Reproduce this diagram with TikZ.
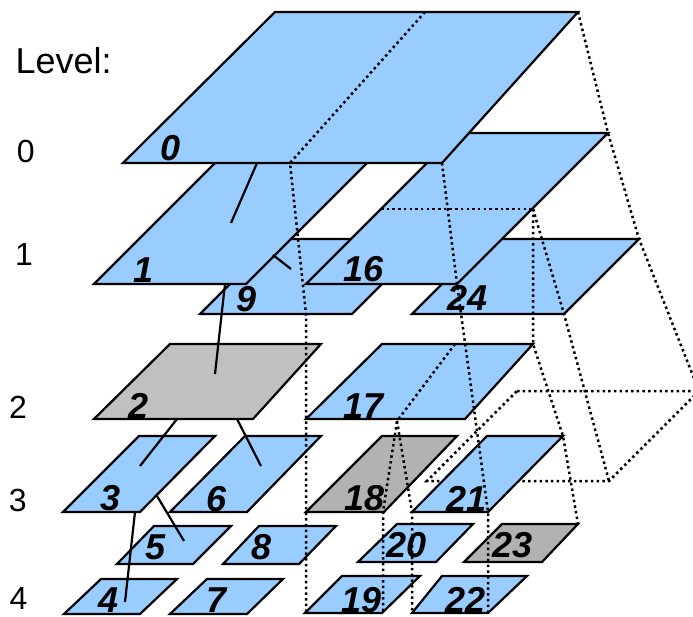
\documentclass[tikz,border=0pt]{standalone}
\usepackage{fontspec}
\setmainfont{Liberation Sans}
\definecolor{tileblue}{HTML}{99CCFF}
\definecolor{tilegray}{HTML}{C0C0C0}
\definecolor{tilegrayd}{HTML}{B2B2B2}
\tikzset{
  tile/.style={fill=tileblue, draw=black, line width=2.2pt, line join=miter},
  gtile/.style={tile, fill=tilegray},
  dtile/.style={tile, fill=tilegrayd},
  proj/.style={draw=black, line width=2.5pt, dash pattern=on 2.5pt off 3.2pt},
  link/.style={draw=black, line width=2.2pt},
  lbl/.style={font=\fontsize{36}{42}\selectfont\bfseries\itshape, anchor=base, inner sep=0pt},
  lvl/.style={font=\fontsize{32}{38}\selectfont, anchor=base west, inner sep=0pt},
}
\begin{document}
\begin{tikzpicture}[x=1pt,y=-1pt]
\useasboundingbox (0,0) rectangle (693,617);
\clip (0,0) rectangle (693,617);

% level labels
\node[lvl, font=\fontsize{36}{42}\selectfont] (lv) at (15.4,74) {Level:};
\node[lvl] (l0) at (16.7,163) {0};
\node[lvl] (l1) at (15,266) {1};
\node[lvl] (l2) at (9,418) {2};
\node[lvl] (l3) at (8.6,511) {3};
\node[lvl] (l4) at (9.5,609) {4};

% upper tiles (back to front)
\path[tile] (412,314) -- (564,314) -- (639,239) -- (487,239) -- cycle; % 24
\path[tile] (200,314) -- (352,314) -- (427,239) -- (275,239) -- cycle; % 9
\path[tile] (306,284) -- (457,284) -- (608,133) -- (457,133) -- cycle; % 16
\path[tile] (94,284) -- (246,284) -- (397,133) -- (245,133) -- cycle; % 1
\path[tile] (123,163) -- (442,163) -- (578,12) -- (275,12) -- cycle; % 0

% level 2
\path[gtile] (94,419) -- (253,419) -- (321,344) -- (170,344) -- cycle; % 2
\path[tile] (306,419) -- (465,419) -- (533,344) -- (382,344) -- cycle; % 17

% ghost outline behind tile 21
\path[proj] (517,391) -- (699,391) -- (609,481) -- (427,481) -- cycle;

% level 3
\path[tile] (63,512) -- (140,512) -- (215,436) -- (139,436) -- cycle; % 3
\path[tile] (170,512) -- (247,512) -- (321,436) -- (245,436) -- cycle; % 6
\path[dtile] (306,512) -- (384,512) -- (457,436) -- (382,436) -- cycle; % 18
\path[tile] (412,512) -- (488,512) -- (563,436) -- (487,436) -- cycle; % 21

% level 3b
\path[tile] (117,564) -- (193,564) -- (231,526) -- (154,526) -- cycle; % 5
\path[tile] (223,564) -- (299,564) -- (336,526) -- (259,526) -- cycle; % 8
\path[tile] (358,562) -- (436,562) -- (473,524) -- (397,524) -- cycle; % 20
\path[dtile] (464,562) -- (542,562) -- (578,524) -- (502,524) -- cycle; % 23

% level 4
\path[tile] (64,614) -- (140,614) -- (177,579) -- (101,579) -- cycle; % 4
\path[tile] (170,614) -- (247,614) -- (283,579) -- (207,579) -- cycle; % 7
\path[tile] (305,613) -- (382,613) -- (420,576) -- (342,576) -- cycle; % 19
\path[tile] (412,613) -- (488,613) -- (527,576) -- (442,576) -- cycle; % 22

% projection lines
\path[proj] (425,12) -- (290,163) -- (306,314) -- (306,613);
\path[proj] (442,163) -- (457,284) -- (488,512) -- (488,613);
\path[proj] (578,12) -- (608,133) -- (639,239) -- (699,391);
\path[proj] (381,209) -- (533,209);
\path[proj] (533,209) -- (533,344) -- (563,436) -- (578,524);
\path[proj] (533,209) -- (564,314) -- (609,481);
\path[proj] (455,344) -- (397,421) -- (383,512) -- (383,613);
\path[proj] (397,421) -- (412,512) -- (412,613);

% tree links
\coordinate (a0) at (257,163); \coordinate (b0) at (231,223);
\coordinate (a1) at (273,255); \coordinate (b1) at (291,269);
\coordinate (a2) at (225,284); \coordinate (b2) at (215,374);
\coordinate (a3) at (177,419); \coordinate (b3) at (140,466);
\coordinate (a4) at (237,419); \coordinate (b4) at (261,466);
\coordinate (a5) at (157,496); \coordinate (b5) at (184,541);
\coordinate (a6) at (135,512); \coordinate (b6) at (125,602);
\draw[link] (a0) -- (b0);
\draw[link] (a1) -- (b1);
\draw[link] (a2) -- (b2);
\draw[link] (a3) -- (b3);
\draw[link] (a4) -- (b4);
\draw[link] (a5) -- (b5);
\draw[link] (a6) -- (b6);

% tile labels
\node[lbl] (t0) at (170.5,161) {0};
\node[lbl] (t1) at (143.5,283) {1};
\node[lbl] (t9) at (246.5,312) {9};
\node[lbl] (t16) at (363.5,282) {16};
\node[lbl] (t24) at (467.5,311) {24};
\node[lbl] (t2) at (138.5,418) {2};
\node[lbl] (t17) at (363.5,418) {17};
\node[lbl] (t3) at (110.5,510) {3};
\node[lbl] (t6) at (216.5,511) {6};
\node[lbl] (t18) at (364.5,510) {18};
\node[lbl] (t21) at (466.5,511) {21};
\node[lbl] (t5) at (155.5,559) {5};
\node[lbl] (t8) at (261.5,559) {8};
\node[lbl] (t20) at (406.5,557) {20};
\node[lbl] (t23) at (512.5,557) {23};
\node[lbl] (t4) at (108.5,612) {4};
\node[lbl] (t7) at (216.5,612) {7};
\node[lbl] (t19) at (361.5,612) {19};
\node[lbl] (t22) at (465.5,612) {22};
\end{tikzpicture}
\end{document}
